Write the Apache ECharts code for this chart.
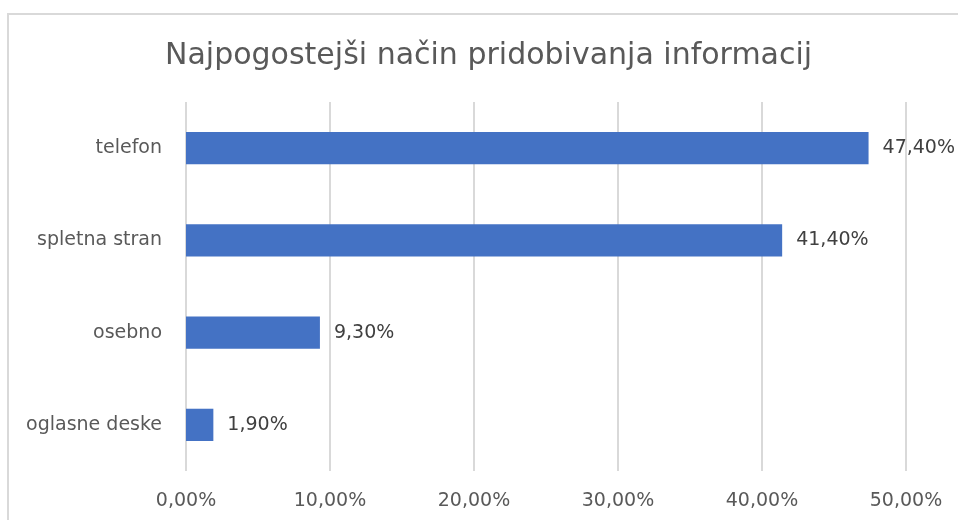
<!DOCTYPE html>
<html>
<head>
<meta charset="utf-8">
<script src="https://cdn.jsdelivr.net/npm/echarts@6/dist/echarts.min.js"></script>
<style>
  html, body { margin: 0; padding: 0; background: #fff; }
  #chart { width: 958px; height: 520px; }
</style>
</head>
<body>
<div id="chart"></div>
<script>
// categories top to bottom as in the picture
const categories = ['telefon', 'spletna stran', 'osebno', 'oglasne deske'];
const values = [47.4, 41.4, 9.3, 1.9];
const xTicks = [0, 10, 20, 30, 40, 50];

const fmt = v => v.toFixed(2).replace('.', ',') + '%';
const textColor = '#595959';
const font = '"DejaVu Sans", sans-serif';

const chart = echarts.init(document.getElementById('chart'));
chart.setOption({
  backgroundColor: '#fff',
  animation: false,
  title: {
    text: 'Najpogostejši način pridobivanja informacij',
    left: 165,
    top: 41,
    padding: 0,
    textStyle: { fontFamily: font, fontSize: 30, fontWeight: 'normal', color: textColor }
  },
  graphic: [{
    type: 'rect',
    shape: { x: 8, y: 14, width: 980, height: 540 },
    style: { fill: 'none', stroke: '#d9d9d9', lineWidth: 2 },
    silent: true
  }],
  grid: { left: 186, right: 52, top: 102, bottom: 49, containLabel: false },
  xAxis: {
    type: 'value',
    min: xTicks[0],
    max: xTicks[xTicks.length - 1],
    interval: 10,
    axisLine: { show: false },
    axisTick: { show: false },
    splitLine: { lineStyle: { color: '#d9d9d9', width: 2 } },
    axisLabel: { formatter: fmt, color: textColor, fontFamily: font, fontSize: 19, margin: 21 }
  },
  yAxis: {
    type: 'category',
    data: categories,
    inverse: true,
    axisLine: { show: false },
    axisTick: { show: false },
    axisLabel: { color: textColor, fontFamily: font, fontSize: 19, margin: 24 }
  },
  series: [{
    type: 'bar',
    data: values,
    barWidth: '35%',
    itemStyle: { color: '#4472C4' },
    label: {
      show: true,
      position: 'right',
      distance: 14,
      formatter: p => fmt(p.value),
      color: '#404040',
      fontFamily: font,
      fontSize: 19
    }
  }]
});
</script>
</body>
</html>
